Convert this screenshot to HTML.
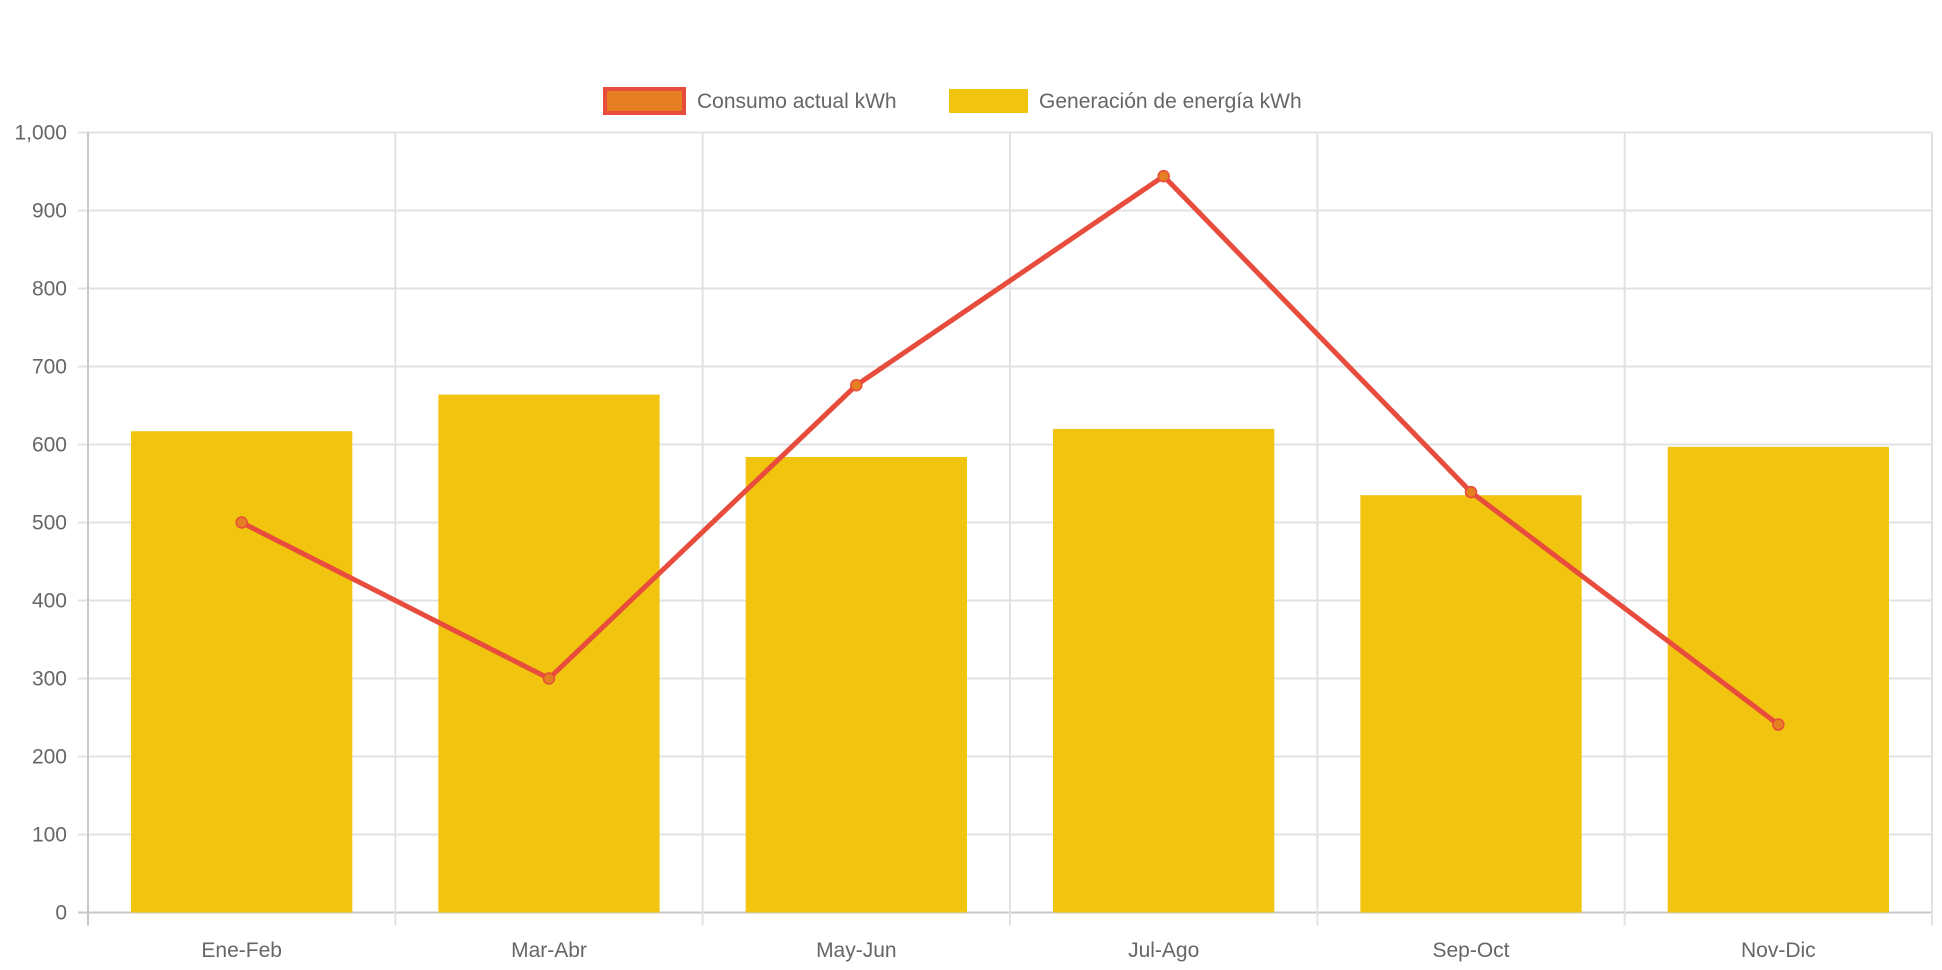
<!DOCTYPE html>
<html><head><meta charset="utf-8"><style>
html,body{margin:0;padding:0;background:#fff;}
svg{display:block;font-family:"Liberation Sans",Helvetica,Arial,sans-serif;}
</style></head><body>
<svg id="chart" width="1942" height="970" viewBox="0 0 1942 970" xmlns="http://www.w3.org/2000/svg">
<g id="legend">
  <g>
    <rect x="605" y="89" width="79" height="24" fill="#e67e22" stroke="#e74c3c" stroke-width="4"/>
    <text x="697" y="108" font-size="21" fill="#666">Consumo actual kWh</text>
  </g>
  <g>
    <rect x="949" y="89" width="79" height="24" fill="#f1c40f"/>
    <text x="1039" y="108" font-size="21" fill="#666">Generación de energía kWh</text>
  </g>
</g>
<g id="grid"></g>
<g id="bars"></g>
<g id="line"></g>
<g id="axes"></g>
</svg>
<script>
const categories = ["Ene-Feb","Mar-Abr","May-Jun","Jul-Ago","Sep-Oct","Nov-Dic"];
const generacion = [617, 664, 584, 620, 535, 597];
const consumo = [500, 300, 676, 944, 539, 241];
const yTicks = [0,100,200,300,400,500,600,700,800,900,1000];
const yTickLabels = ["0","100","200","300","400","500","600","700","800","900","1,000"];

const NS="http://www.w3.org/2000/svg";
const L=88, R=1932, T=132.5, B=912.5, yMax=1000;
const cw=(R-L)/categories.length;
function xC(i){return L+cw*(i+0.5);}
function y(v){return B-(v/yMax)*(B-T);}
function mk(tag,attrs,parent){const e=document.createElementNS(NS,tag);for(const k in attrs)e.setAttribute(k,attrs[k]);parent.appendChild(e);return e;}
const grid=document.getElementById('grid'),bars=document.getElementById('bars'),line=document.getElementById('line'),axes=document.getElementById('axes');

yTicks.forEach((t,i)=>{
  const g=mk('line',{x1:L-10,x2:R,y1:y(t),y2:y(t),stroke:t===0?'#c8c8c8':'#e2e2e2','stroke-width':2},grid);
  
  
  const tx=mk('text',{x:L-21,y:y(t)+7,'font-size':21,fill:'#666','text-anchor':'end'},axes);
  tx.textContent=yTickLabels[i];
  
  
});
for(let i=0;i<=categories.length;i++){
  const x=L+cw*i;
  const g=mk('line',{x1:x,x2:x,y1:T,y2:B+13,stroke:i===0?'#c8c8c8':'#e2e2e2','stroke-width':2},grid);
  
  
}
categories.forEach((c,i)=>{
  const bw=cw*0.72;
  const r=mk('rect',{x:xC(i)-bw/2,y:y(generacion[i]),width:bw,height:B-y(generacion[i]),fill:'#f1c40f'},bars);
  
  
  const tx=mk('text',{x:xC(i),y:957,'font-size':21,fill:'#666','text-anchor':'middle'},axes);
  tx.textContent=c;
  
  
});
const pts=consumo.map((v,i)=>xC(i)+','+y(v)).join(' ');
const pl=mk('polyline',{points:pts,fill:'none',stroke:'#e74c3c','stroke-width':5,'stroke-linejoin':'round'},line);


consumo.forEach((v,i)=>{
  const c=mk('circle',{cx:xC(i),cy:y(v),r:5.5,fill:'#e67e22',stroke:'#e74c3c','stroke-width':1.5},line);
  
  
});
</script>
</body></html>
